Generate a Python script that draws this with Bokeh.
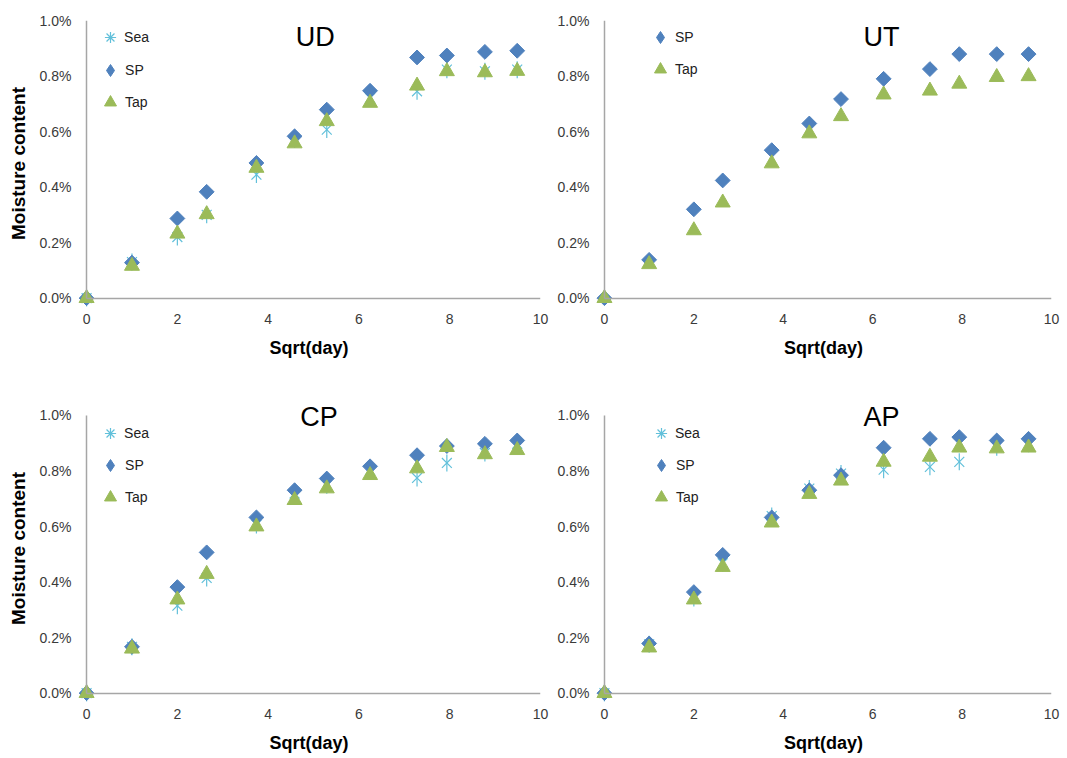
import math
from bokeh.plotting import figure
from bokeh.layouts import column, row
from bokeh.models import (Label, Legend, LegendItem, FixedTicker, PrintfTickFormatter, Range1d,
                          LinearAxis)
from bokeh.embed import file_html
from bokeh.resources import INLINE

# sqrt(day) for days 0,1,4,7,14,21,28,39,53,63,77,90
days = [0, 1, 4, 7, 14, 21, 28, 39, 53, 63, 77, 90]
sqrt_day = [d ** 0.5 for d in days]

# Moisture content in percent
ud_sea = [0.0, 0.130, 0.220, 0.300, 0.445, 0.571, 0.607, 0.721, 0.745, 0.823, 0.817, 0.823]
ud_sp = [0.0, 0.128, 0.287, 0.383, 0.487, 0.583, 0.679, 0.747, 0.867, 0.874, 0.887, 0.891]
ud_tap = [0.0, 0.116, 0.232, 0.302, 0.469, 0.557, 0.637, 0.703, 0.765, 0.817, 0.813, 0.818]

ut_sp = [0.0, 0.138, 0.320, 0.424, 0.533, 0.629, 0.717, 0.790, 0.825, 0.879, 0.879, 0.879]
ut_tap = [0.0, 0.122, 0.244, 0.344, 0.485, 0.593, 0.655, 0.733, 0.747, 0.772, 0.796, 0.799]

cp_sea = [0.0, 0.167, 0.315, 0.415, 0.606, 0.719, 0.749, 0.803, 0.775, 0.829, 0.865, 0.898]
cp_sp = [0.0, 0.167, 0.382, 0.507, 0.633, 0.731, 0.773, 0.817, 0.857, 0.890, 0.898, 0.910]
cp_tap = [0.0, 0.160, 0.337, 0.429, 0.600, 0.695, 0.737, 0.785, 0.809, 0.886, 0.860, 0.875]

ap_sea = [0.0, 0.176, 0.343, 0.468, 0.638, 0.737, 0.791, 0.805, 0.815, 0.833, 0.886, 0.898]
ap_sp = [0.0, 0.179, 0.364, 0.498, 0.633, 0.731, 0.785, 0.884, 0.916, 0.922, 0.910, 0.916]
ap_tap = [0.0, 0.164, 0.337, 0.454, 0.614, 0.717, 0.765, 0.833, 0.851, 0.884, 0.881, 0.884]

x_ticks = [0, 2, 4, 6, 8, 10]
y_ticks = [0.0, 0.2, 0.4, 0.6, 0.8, 1.0]

SEA_C = "#62c0da"
SP_C = "#4f81bd"
TAP_C = "#9bbb59"
AXIS_C = "#a6a6a6"
FONT = "Liberation Sans"

X_PAD = 0.2      # room left of x=0 so origin markers are not clipped
Y_PAD = 0.03     # room below y=0


def style_label_axis(ax):
    ax.axis_line_color = None
    ax.major_tick_line_color = None
    ax.minor_tick_line_color = None
    ax.major_tick_out = 0
    ax.major_tick_in = 0
    ax.minor_tick_out = 0
    ax.minor_tick_in = 0
    ax.major_label_text_font = FONT
    ax.major_label_text_font_size = "14px"
    ax.major_label_text_color = "#3a3a3a"
    ax.axis_label_text_font = FONT
    ax.axis_label_text_font_style = "bold"
    ax.axis_label_text_color = "black"


def line_axis(bounds):
    ax = LinearAxis(fixed_location=0, bounds=bounds, ticker=FixedTicker(ticks=[]),
                    axis_line_color=AXIS_C, axis_line_width=1.5,
                    major_tick_line_color=None, minor_tick_line_color=None,
                    major_label_text_color=None)
    return ax


def make_panel(name, series, width, height, bl, br, bt, bb, y_top, ylabel,
               title_x, title_y, leg_dx, leg_dys):
    p = figure(width=width, height=height, output_backend="svg", toolbar_location=None,
               x_range=Range1d(-X_PAD, 10), y_range=Range1d(-Y_PAD, y_top),
               min_border_left=bl, min_border_right=br, min_border_top=bt, min_border_bottom=bb)
    p.outline_line_color = None
    p.xgrid.visible = False
    p.ygrid.visible = False
    p.background_fill_color = "white"
    p.border_fill_color = "white"

    frame_h = height - bt - bb
    ppu_y = frame_h / (y_top + Y_PAD)
    y_axis_top = (y_top - 1.0) * ppu_y          # px from frame top to the 1.0% line
    y0_gap = Y_PAD * ppu_y                       # px from y=0 line to frame bottom
    ppu_x = (width - bl - br) / (10 + X_PAD)
    x0_gap = X_PAD * ppu_x                       # px from frame left to x=0

    for ax in (p.xaxis[0], p.yaxis[0]):
        style_label_axis(ax)
    p.xaxis.ticker = FixedTicker(ticks=x_ticks)
    p.yaxis.ticker = FixedTicker(ticks=y_ticks)
    p.yaxis.formatter = PrintfTickFormatter(format="%.1f%%")
    p.xaxis.major_label_standoff = int(round(15 - y0_gap))
    p.yaxis.major_label_standoff = int(round(15 - x0_gap))
    p.xaxis.axis_label = "Sqrt(day)"
    p.xaxis.axis_label_text_font_size = "18px"
    p.xaxis.axis_label_standoff = 11
    if ylabel:
        p.yaxis.axis_label = ylabel
        p.yaxis.axis_label_text_font_size = "19px"
        p.yaxis.axis_label_standoff = 8

    # gray axis lines crossing at the origin
    p.add_layout(line_axis((0, 10)), "below")
    p.add_layout(line_axis((0, 1.0)), "left")

    for i, (label, ys) in enumerate(series):
        if label == "Sea":
            # Excel-style asterisk: an X with a vertical bar
            p.scatter(sqrt_day, ys, marker="x", size=14, line_color=SEA_C, line_width=1.2)
            p.scatter(sqrt_day, ys, marker="dash", angle=math.pi / 2, size=17,
                      line_color=SEA_C, line_width=1.2)
            leg_r = p.scatter(sqrt_day, ys, marker="asterisk", size=10, line_color=SEA_C,
                              line_width=1.2, visible=False)
            g = 28
        elif label == "SP":
            p.scatter(sqrt_day, ys, marker="square", angle=math.pi / 4, size=10.5,
                      fill_color=SP_C, line_color=SP_C)
            leg_r = p.scatter(sqrt_day, ys, marker="diamond", size=12,
                              fill_color=SP_C, line_color=SP_C, visible=False)
            g = 30
        else:
            leg_r = p.scatter(sqrt_day, ys, marker="triangle", size=15,
                              fill_color=TAP_C, line_color=TAP_C)
            g = 30
        cx = x0_gap + leg_dx - 3
        cy = y_axis_top + leg_dys[i]
        row_h = max(g, 20)
        lx = cx - g / 2
        ly = frame_h - cy - row_h / 2
        leg = Legend(items=[LegendItem(label=label, renderers=[leg_r])], location=(lx, ly),
                     background_fill_alpha=0, border_line_alpha=0, label_text_font=FONT,
                     label_text_font_size="14px", label_text_color="#222222",
                     glyph_width=g, glyph_height=g, label_standoff=0,
                     spacing=0, padding=0, margin=0, label_height=20)
        p.add_layout(leg)

    p.add_layout(Label(x=title_x, y=title_y, text=name, text_font=FONT, text_font_size="27px",
                       text_color="black", text_align="center", text_baseline="middle"))
    return p


p1 = make_panel("UD", [("Sea", ud_sea), ("SP", ud_sp), ("Tap", ud_tap)],
                550, 390, 77, 10, 20, 84, 1.0, "Moisture content", 5.04, 0.94, 27, [17, 50, 82])
p2 = make_panel("UT", [("SP", ut_sp), ("Tap", ut_tap)],
                517, 390, 45, 16, 20, 84, 1.0, None, 6.2, 0.94, 59, [17, 49])
p3 = make_panel("CP", [("Sea", cp_sea), ("SP", cp_sp), ("Tap", cp_tap)],
                550, 368, 77, 10, 5, 57, 1.072, "Moisture content", 5.12, 0.996, 27, [18, 50, 82])
p4 = make_panel("AP", [("Sea", ap_sea), ("SP", ap_sp), ("Tap", ap_tap)],
                517, 368, 45, 16, 5, 57, 1.072, None, 6.2, 0.996, 60, [18, 50, 82])

layout = column(row(p1, p2, spacing=0), row(p3, p4, spacing=0), spacing=0)
open("out.html", "w").write(file_html(layout, INLINE))
